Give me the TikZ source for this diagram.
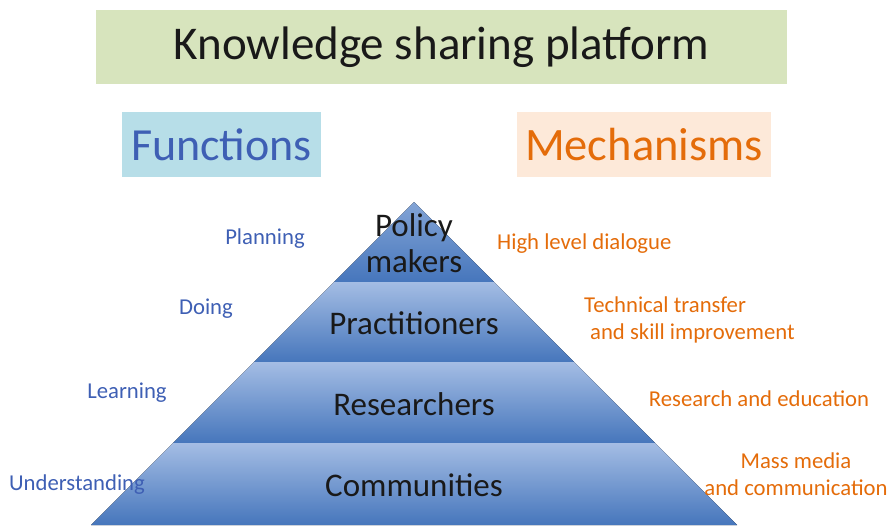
\documentclass[tikz,border=0pt]{standalone}
\usepackage{fontspec}
\setmainfont{Carlito}
\definecolor{titlegreen}{RGB}{215,228,189}
\definecolor{funcbg}{RGB}{183,222,232}
\definecolor{mechbg}{RGB}{253,233,217}
\definecolor{funcblue}{RGB}{62,95,180}
\definecolor{mechorange}{RGB}{228,108,10}
\definecolor{bandtop}{RGB}{164,189,228}
\definecolor{bandbot}{RGB}{70,118,188}
\definecolor{darktext}{RGB}{25,25,25}
\begin{document}
\begin{tikzpicture}[x=1pt,y=-1pt,
  headbox/.style={rectangle, inner sep=0pt, text=darktext},
  band/.style={top color=bandtop, bottom color=bandbot, draw=none},
  bandlabel/.style={text=darktext, font=\fontsize{33}{36}\selectfont, align=center, inner sep=0pt},
  funclabel/.style={text=funcblue, font=\fontsize{22.7}{26}\selectfont, inner sep=0pt},
  mechlabel/.style={text=mechorange, font=\fontsize{22.7}{27.5}\selectfont, inner sep=0pt}]
\useasboundingbox (0,0) rectangle (891,525);
% header boxes
\node[headbox, fill=titlegreen, minimum width=691pt, minimum height=74pt,
  font=\fontsize{47}{50}\selectfont] (title) at (441.5,47) {Knowledge sharing platform};
\node[headbox, fill=funcbg, minimum width=199pt, minimum height=65pt, text=funcblue,
  font=\fontsize{46}{48}\selectfont] (functions) at (221.5,144.5) {Functions};
\node[headbox, fill=mechbg, minimum width=254pt, minimum height=65pt, text=mechorange,
  font=\fontsize{46.5}{48}\selectfont] (mechanisms) at (644,144.5) {Mechanisms};
% pyramid bands
\fill[band, top color=bandtop!65!bandbot] (414,202) -- (494,282) -- (334,282) -- cycle;
\fill[band] (334,282) -- (494,282) -- (574,362) -- (254,362) -- cycle;
\fill[band] (254,362) -- (574,362) -- (655,443) -- (173,443) -- cycle;
\fill[band] (173,443) -- (655,443) -- (737,525) -- (91,525) -- cycle;
% band labels
\node[bandlabel] (policy) at (414,243) {Policy\\makers};
\node[bandlabel] (pract) at (414,323) {Practitioners};
\node[bandlabel] (resear) at (414,404) {Researchers};
\node[bandlabel] (commun) at (414,485) {Communities};
% functions
\node[funclabel] (planning) at (265,239) {Planning};
\node[funclabel] (doing) at (206,309) {Doing};
\node[funclabel] (learning) at (127,393) {Learning};
\node[funclabel] (underst) at (77,485) {Understanding};
% mechanisms
\node[mechlabel, anchor=west] (dialogue) at (497,244) {High level dialogue};
\node[mechlabel, anchor=west, align=left] (transfer) at (584,320) {Technical transfer\\\hspace*{6pt}and skill improvement};
\node[mechlabel] (research) at (759,399) {Research and education};
\node[mechlabel, align=center] (media) at (796,474) {Mass media\\and communication};
\end{tikzpicture}
\end{document}
